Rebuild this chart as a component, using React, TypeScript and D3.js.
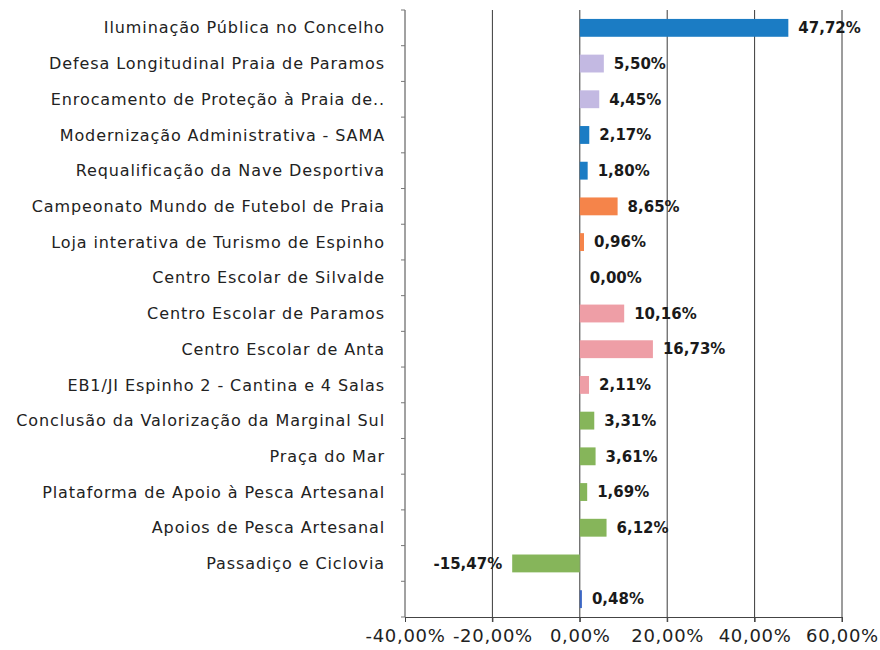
import { useEffect, useRef } from "react"
import * as d3 from "d3"

const categories = [
    "Iluminação Pública no Concelho",
    "Defesa Longitudinal Praia de Paramos",
    "Enrocamento de Proteção à Praia de..",
    "Modernização Administrativa - SAMA",
    "Requalificação da Nave Desportiva",
    "Campeonato Mundo de Futebol de Praia",
    "Loja interativa de Turismo de Espinho",
    "Centro Escolar de Silvalde",
    "Centro Escolar de Paramos",
    "Centro Escolar de Anta",
    "EB1/JI Espinho 2 - Cantina e 4 Salas",
    "Conclusão da Valorização da Marginal Sul",
    "Praça do Mar",
    "Plataforma de Apoio à Pesca Artesanal",
    "Apoios de Pesca Artesanal",
    "Passadiço e Ciclovia",
    "",
]

const values = [47.72, 5.5, 4.45, 2.17, 1.8, 8.65, 0.96, 0.0, 10.16, 16.73, 2.11, 3.31, 3.61, 1.69, 6.12, -15.47, 0.48]

const barColors = [
    "#1b7cc4", "#c3b9e2", "#c3b9e2", "#1b7cc4", "#1b7cc4",
    "#f5844a", "#f5844a", "#f5844a",
    "#ee9ea6", "#ee9ea6", "#ee9ea6",
    "#86b55a", "#86b55a", "#86b55a", "#86b55a", "#86b55a",
    "#3c66c4",
]

const xTicks = [-40, -20, 0, 20, 40, 60]

const fmt = (v: number) => v.toFixed(2).replace(".", ",") + "%"

export default function App() {
    const ref = useRef<SVGSVGElement>(null)

    useEffect(() => {
        const svg = d3.select(ref.current)
        svg.selectAll("*").remove()

        const left = 405
        const right = 842
        const top = 10
        const bottom = 617

        const x = d3.scaleLinear().domain([-40, 60]).range([left, right])
        const y = d3.scaleBand<number>()
            .domain(d3.range(categories.length))
            .range([top, bottom])
            .paddingInner(0.5)
            .paddingOuter(0.25)
        const band = d3.scaleBand<number>().domain(d3.range(categories.length)).range([top, bottom])

        const font = "'DejaVu Sans', Verdana, sans-serif"

        // vertical gridlines
        svg.append("g")
            .selectAll("line")
            .data(xTicks.slice(1))
            .join("line")
            .attr("x1", d => x(d))
            .attr("x2", d => x(d))
            .attr("y1", top)
            .attr("y2", bottom + 5)
            .attr("stroke", "#3a3a3a")
            .attr("stroke-width", 1)

        // left axis with category separators
        const yAxis = svg.append("g")
        yAxis.append("line")
            .attr("x1", left).attr("x2", left)
            .attr("y1", top).attr("y2", bottom)
            .attr("stroke", "#444")
        yAxis.selectAll("line.tick")
            .data(d3.range(categories.length + 1))
            .join("line")
            .attr("class", "tick")
            .attr("x1", left - 4).attr("x2", left)
            .attr("y1", d => (d < categories.length ? band(d)! : bottom))
            .attr("y2", d => (d < categories.length ? band(d)! : bottom))
            .attr("stroke", "#777")

        // bottom axis
        const xAxis = svg.append("g").attr("transform", `translate(0,${bottom})`)
            .call(d3.axisBottom(x).tickValues(xTicks).tickSize(5).tickFormat(d => fmt(+d)))
        xAxis.select(".domain").attr("stroke", "#444")
        xAxis.selectAll(".tick line").attr("stroke", "#444")
        xAxis.selectAll("text")
            .attr("font-family", font)
            .attr("font-size", 18)
            .attr("letter-spacing", 0.7)
            .attr("fill", "#222")
            .attr("dy", "0.95em")

        // category labels
        svg.append("g")
            .selectAll("text")
            .data(categories)
            .join("text")
            .attr("x", 385)
            .attr("y", (_, i) => band(i)! + band.bandwidth() / 2)
            .attr("dy", "0.35em")
            .attr("text-anchor", "end")
            .attr("font-family", font)
            .attr("font-size", 16)
            .attr("letter-spacing", 0.9)
            .attr("fill", "#222")
            .text(d => d)

        // bars
        svg.append("g")
            .selectAll("rect")
            .data(values)
            .join("rect")
            .attr("x", d => x(Math.min(0, d)))
            .attr("y", (_, i) => y(i)!)
            .attr("width", d => Math.abs(x(d) - x(0)))
            .attr("height", y.bandwidth())
            .attr("fill", (_, i) => barColors[i])

        // value labels
        svg.append("g")
            .selectAll("text")
            .data(values)
            .join("text")
            .attr("x", d => (d < 0 ? x(d) - 10 : x(d) + 10))
            .attr("y", (_, i) => band(i)! + band.bandwidth() / 2)
            .attr("dy", "0.35em")
            .attr("text-anchor", d => (d < 0 ? "end" : "start"))
            .attr("font-family", font)
            .attr("font-size", 15)
            .attr("font-weight", "bold")
            .attr("fill", "#1a1a1a")
            .text(d => fmt(d))
    }, [])

    return (
        <svg
            ref={ref}
            width={880}
            height={650}
            style={{ position: "absolute", left: 0, top: 0, background: "#fff" }}
        />
    )
}
